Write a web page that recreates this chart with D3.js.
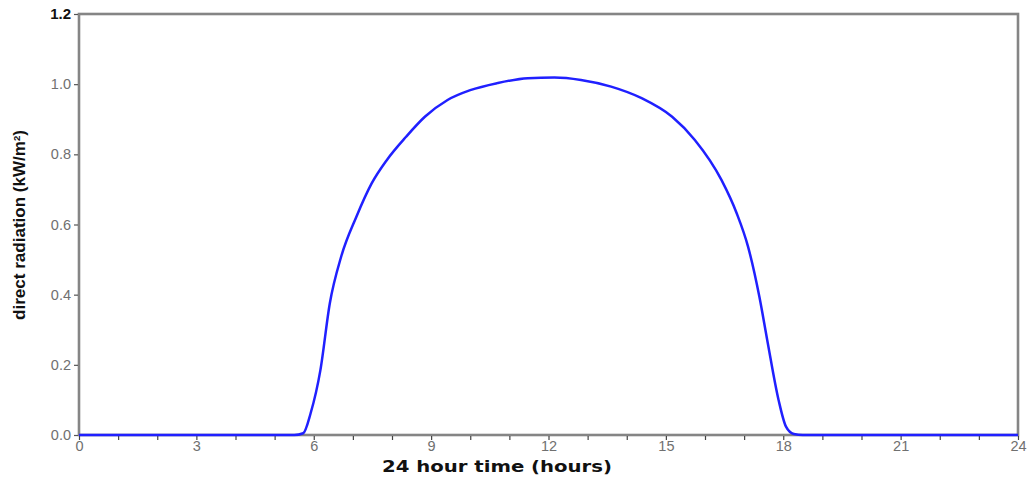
<!DOCTYPE html>
<html><head><meta charset="utf-8">
<script src="https://cdn.jsdelivr.net/npm/d3@7"></script>
<style>body{margin:0;background:#fff}svg{display:block}</style>
</head><body>
<script>
const hours = [0,1,2,3,4,5,5.5,5.73,5.92,6.17,6.41,6.70,7.09,7.48,7.87,8.36,8.84,9.42,10.0,10.69,11.47,12.15,12.83,13.6,14.38,15.16,15.74,16.42,16.81,17.10,17.39,17.59,17.88,18.07,18.27,18.5,19,20,21,22,23,24];
const radiation = [0,0,0,0,0,0,0,0.005,0.062,0.185,0.375,0.508,0.622,0.717,0.784,0.850,0.907,0.955,0.983,1.003,1.017,1.019,1.012,0.993,0.96,0.907,0.841,0.727,0.632,0.537,0.394,0.271,0.10,0.024,0.003,0,0,0,0,0,0,0];
const xTickLabels = [0,3,6,9,12,15,18,21,24];
const yTickLabels = [0.0,0.2,0.4,0.6,0.8,1.0,1.2];

const W=1033,H=481, m={l:79,r:15,t:14,b:46};
const svg=d3.select("body").append("svg").attr("width",W).attr("height",H);
const x=d3.scaleLinear().domain([0,24]).range([m.l,W-m.r]);
const y=d3.scaleLinear().domain([0,1.2]).range([H-m.b,m.t]);
const axisCol="#858585";

// frame
svg.append("rect").attr("x",x(0)).attr("y",y(1.2)).attr("width",x(24)-x(0)).attr("height",y(0)-y(1.2))
  .attr("fill","none").attr("stroke",axisCol).attr("stroke-width",2.6);

// x axis
const gx=svg.append("g").attr("transform",`translate(0,${y(0)+1})`)
  .call(d3.axisBottom(x).tickValues(d3.range(0,25,1)).tickSize(4).tickPadding(2).tickFormat(d=>xTickLabels.includes(d)?d:""));
gx.select(".domain").remove();
gx.selectAll("line").attr("stroke","#444").attr("stroke-width",1.2);
gx.selectAll("text").attr("fill","#707070").attr("font-family","Liberation Sans, Arial, sans-serif").attr("font-size",14.5).attr("dy","0.6em");

// y axis
const gy=svg.append("g").attr("transform",`translate(${x(0)-1},0)`)
  .call(d3.axisLeft(y).tickValues(yTickLabels).tickSize(4).tickPadding(3).tickFormat(d3.format(".1f")));
gy.select(".domain").remove();
gy.selectAll("line").attr("stroke","#555").attr("stroke-width",1.2);
gy.selectAll("text").attr("fill","#707070").attr("font-family","Liberation Sans, Arial, sans-serif").attr("font-size",14.5);
gy.selectAll("text").filter(d=>d===1.2).attr("fill","#111").attr("font-weight","bold").attr("font-size",15);

// line
const line=d3.line().x((d,i)=>x(hours[i])).y(d=>y(d)).curve(d3.curveMonotoneX);
svg.append("path").datum(radiation).attr("d",line).attr("fill","none").attr("stroke","#2020ff").attr("stroke-width",2.5);

// labels
svg.append("text").attr("x",497).attr("y",472).attr("text-anchor","middle")
  .attr("font-family","DejaVu Sans, Verdana, sans-serif").attr("font-weight","bold").attr("font-size",15).attr("fill","#111")
  .attr("textLength",230).attr("lengthAdjust","spacingAndGlyphs")
  .text("24 hour time (hours)");
const yl=svg.append("text").attr("transform",`translate(25,225) rotate(-90)`).attr("text-anchor","middle")
  .attr("font-family","Liberation Sans Narrow, Liberation Sans, Arial, sans-serif").attr("font-weight","bold").attr("font-size",16).attr("fill","#111")
  .attr("textLength",190).attr("lengthAdjust","spacingAndGlyphs");
yl.append("tspan").text("direct radiation (kW/m");
yl.append("tspan").attr("baseline-shift","super").attr("font-size",9).text("2");
yl.append("tspan").text(")");
</script>
</body></html>
